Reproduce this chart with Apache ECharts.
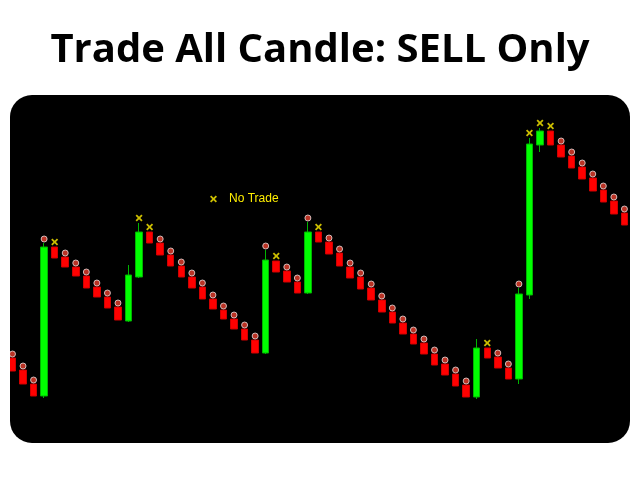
<!DOCTYPE html>
<html>
<head>
<meta charset="utf-8">
<script src="https://cdn.jsdelivr.net/npm/echarts@6/dist/echarts.min.js"></script>
<style>html,body{margin:0;padding:0;background:#fff;}#c{width:640px;height:480px;}</style>
</head>
<body>
<div id="c"></div>
<script>
// Candle index categories
var categories = [];
for (var k = 0; k < 59; k++) categories.push(String(k + 1));

var opens  = [85,73,59,47,196,186,176,167,156,146,136,122,166,211,200,188,177,166,156,144,133,124,114,103,90,182,172,161,150,211,201,190,176,166,155,143,131,120,109,100,89,79,69,58,46,95,86,75,64,148,298,312,298,287,276,265,253,242,230];
var closes = [72,59,47,196,185,176,167,155,146,135,123,168,211,200,188,177,166,155,144,134,124,114,103,90,183,171,161,150,211,201,189,177,165,154,143,131,120,109,99,89,78,68,57,46,95,85,75,64,149,299,312,298,286,275,264,252,241,229,218];
var lows   = [72,59,47,45,185,176,167,155,146,135,123,121,165,200,188,177,166,155,144,134,124,114,103,90,89,171,161,150,149,201,189,177,165,154,143,131,120,109,99,89,78,68,57,46,44,85,75,64,59,144,291,298,286,275,264,252,241,229,218];
var highs  = [85,73,59,200,196,186,176,167,156,146,136,178,220,211,200,188,177,166,156,144,133,124,114,103,193,182,172,161,221,211,201,190,176,166,155,143,131,120,109,100,89,79,69,58,104,95,86,75,155,305,315,312,298,287,276,265,253,242,230];
// Signal per candle: S = sell marker, X = no trade, '' = none
var signals = ['S','S','S','S','X','S','S','S','S','S','S','','X','X','S','S','S','S','S','S','S','S','S','S','S','X','S','S','S','X','S','S','S','S','S','S','S','S','S','S','S','S','S','S','','X','S','S','S','X','X','X','S','S','S','S','S','S','S'];

var candleData = [];
var sellPts = [], noTradePts = [];
for (var i = 0; i < categories.length; i++) {
  candleData.push([opens[i], closes[i], lows[i], highs[i]]);
  if (signals[i] === 'S') sellPts.push([categories[i], highs[i]]);
  if (signals[i] === 'X') noTradePts.push([categories[i], highs[i]]);
}

var xPath = 'path://M1.8,0L5,3.2L8.2,0L10,1.8L6.8,5L10,8.2L8.2,10L5,6.8L1.8,10L0,8.2L3.2,5L0,1.8Z';

var chart = echarts.init(document.getElementById('c'), null, {renderer: 'canvas'});
chart.setOption({
  animation: false,
  backgroundColor: '#ffffff',
  title: {
    text: 'Trade All Candle: SELL Only',
    left: 'center',
    top: 26,
    textStyle: {fontFamily: 'Open Sans', fontWeight: 'bold', fontSize: 40, color: '#000'}
  },
  graphic: [
    {type: 'rect', z: -10, shape: {x: 10, y: 95, width: 620, height: 348, r: 22}, style: {fill: '#000'}},
    {type: 'rect', z: 100, zlevel: 1, shape: {x: 0, y: 95, width: 10, height: 348}, style: {fill: '#fff'}}
  ],
  legend: {
    data: [{name: 'No Trade', icon: xPath}],
    left: 205, top: 188,
    itemWidth: 21, itemHeight: 7,
    textStyle: {color: '#ffee00', fontSize: 12, fontFamily: 'Liberation Sans'}
  },
  grid: {left: 7.2, right: 10.3, top: 95, bottom: 37},
  xAxis: {
    type: 'category', data: categories, boundaryGap: true,
    show: false
  },
  yAxis: {type: 'value', min: 0, max: 348, show: false, splitLine: {show: false}},
  series: [
    {
      type: 'candlestick', name: 'Price',
      data: candleData,
      barWidth: 7,
      itemStyle: {
        color: '#00ff00', color0: '#ff0000',
        borderColor: '#00b400', borderColor0: '#d00000', borderWidth: 1
      }
    },
    {
      type: 'scatter', name: 'Sell',
      data: sellPts,
      symbol: 'circle', symbolSize: 6, symbolOffset: [0, -4],
      itemStyle: {color: '#e8402e', borderColor: '#e8dede', borderWidth: 1},
      z: 5
    },
    {
      type: 'scatter', name: 'No Trade',
      data: noTradePts,
      symbol: xPath, symbolSize: 7, symbolOffset: [0, -5],
      itemStyle: {color: '#ffee00'},
      z: 5
    }
  ]
});
</script>
</body>
</html>
